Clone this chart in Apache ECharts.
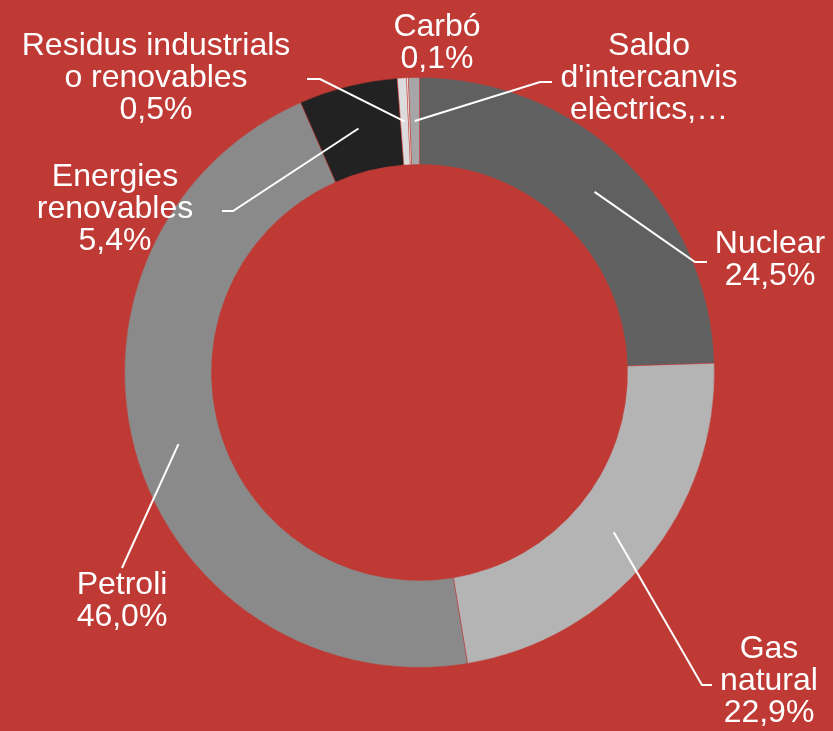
<!DOCTYPE html>
<html>
<head>
<meta charset="utf-8">
<script src="https://cdn.jsdelivr.net/npm/echarts@6/dist/echarts.min.js"></script>
<style>
  html, body { margin: 0; padding: 0; background: #bf3a35; }
  #main { width: 833px; height: 731px; }
</style>
</head>
<body>
<div id="main"></div>
<script>
var categories = ['Nuclear', 'Gas natural', 'Petroli', 'Energies renovables', 'Residus industrials o renovables', 'Carbó', "Saldo d'intercanvis elèctrics"];
var values = [24.5, 22.9, 46.0, 5.4, 0.5, 0.1, 0.6];
var labelTexts = ['Nuclear', 'Gas\nnatural', 'Petroli', 'Energies\nrenovables', 'Residus industrials\no renovables', 'Carbó', "Saldo\nd'intercanvis\nelèctrics,…"];
var showPct = [true, true, true, true, true, true, false];

var colors = ['#606060', '#b4b4b4', '#8a8a8a', '#222222', '#dcdcdc', '#f2f2f2', '#a6a6a6'];
var bg = '#bf3a35';

// label placement (block centre) and connector bends
var labelPos = [[770, 260], [769, 681], [122, 601], [115, 209], [156, 78], [437, 43], [649, 78]];
var lineBends = [
    [[695, 262], [707, 262]],
    [[702, 685], [712, 685]],
    [[122, 568]],
    [[233, 211], [222, 211]],
    [[320, 79], [307, 79]],
    null,
    [[540, 82], [552, 82]]
];

var center = [419.5, 372.5];

var myChart = echarts.init(document.getElementById('main'));

var ringData = categories.map(function (name, i) {
    return { name: name, value: values[i], itemStyle: { color: colors[i] } };
});
var labelData = categories.map(function (name, i) {
    return { name: name, value: values[i], labelLine: { show: lineBends[i] != null } };
});

var option = {
    backgroundColor: bg,
    animation: false,
    series: [
        {
            type: 'pie',
            z: 1,
            silent: true,
            center: center,
            radius: [208, 295],
            startAngle: 90,
            clockwise: true,
            label: { show: false },
            labelLine: { show: false },
            itemStyle: { borderColor: bg, borderWidth: 0.5 },
            data: ringData
        },
        {
            // invisible inner pie: gives connectors starting mid-ring
            type: 'pie',
            z: 3,
            silent: true,
            center: center,
            radius: [0, 251.5],
            startAngle: 90,
            clockwise: true,
            itemStyle: { color: 'rgba(0,0,0,0)' },
            label: {
                show: true,
                position: 'outside',
                overflow: 'none',
                color: '#fff',
                fontFamily: 'Liberation Sans, Arial, sans-serif',
                fontSize: 32,
                lineHeight: 32,
                align: 'center',
                formatter: function (p) {
                    var i = p.dataIndex;
                    var t = labelTexts[i];
                    if (showPct[i]) t += '\n' + values[i].toFixed(1).replace('.', ',') + '%';
                    return t;
                }
            },
            labelLine: {
                show: true,
                length: 20,
                length2: 10,
                lineStyle: { color: '#fff', width: 2 }
            },
            labelLayout: function (params) {
                var i = params.dataIndex;
                var res = {
                    x: labelPos[i][0],
                    y: labelPos[i][1],
                    align: 'center',
                    verticalAlign: 'middle'
                };
                var pts = params.labelLinePoints;
                if (pts && lineBends[i]) {
                    res.labelLinePoints = [pts[0]].concat(lineBends[i]);
                }
                return res;
            },
            data: labelData
        }
    ]
};
myChart.setOption(option);
</script>
</body>
</html>
